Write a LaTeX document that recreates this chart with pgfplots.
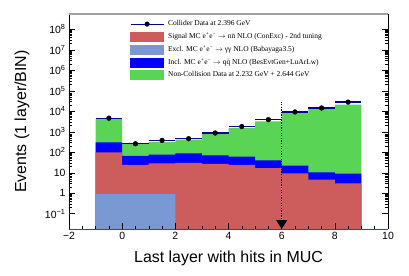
\documentclass[border=0pt]{standalone}
\usepackage{pgfplots}
\pgfplotsset{compat=1.18}
\usepackage{fontspec}
\setmainfont{Liberation Sans}
\newfontfamily\legfont{Liberation Serif}
\usetikzlibrary{arrows.meta}
\definecolor{sigred}{RGB}{205,92,92}
\definecolor{exclblue}{RGB}{122,153,210}
\definecolor{inclblue}{RGB}{0,0,255}
\definecolor{ncgreen}{RGB}{89,212,84}
\definecolor{datanavy}{RGB}{0,0,150}
\definecolor{framegray}{RGB}{160,160,160}
\definecolor{botline}{RGB}{60,70,110}
\begin{document}
\begin{tikzpicture}
\begin{axis}[
  at={(0,0)}, anchor=south west,
  scale only axis, width=319bp, height=215bp,
  xmin=-2, xmax=10, ymode=log, ymin=0.018, ymax=5.6e8,
  axis on top, axis line style={draw=none},
  xtick={-2,0,2,4,6,8,10},
  xticklabels={−2,0,2,4,6,8,10},
  minor x tick num=3,
  ytickten={-1,0,1,2,3,4,5,6,7,8},
  yticklabels={10\textsuperscript{−1},1,10,10\textsuperscript{2},10\textsuperscript{3},10\textsuperscript{4},10\textsuperscript{5},10\textsuperscript{6},10\textsuperscript{7},10\textsuperscript{8}},
  xtick pos=bottom, ytick pos=both, tick align=inside,
  major tick length=6bp, minor tick length=3bp,
  tick style={black, line width=0.5pt},
  ticklabel style={font=\fontsize{10.5}{12}\selectfont},
  xlabel={Last layer with hits in MUC},
  ylabel={Events (1 layer/BIN)},
  label style={font=\fontsize{16}{19}\selectfont},
  xlabel style={at={(axis description cs:0.5,-0.135)}, anchor=center},
  ylabel style={at={(axis description cs:-0.147,0.5)}, anchor=center},
  legend style={at={(rel axis cs:0.191,0.974)}, anchor=north west, draw=none, fill=none,
    inner sep=0pt, font=\legfont\fontsize{7.5}{9}\selectfont, row sep=3.4bp, column sep=3bp,
    nodes={inner sep=1bp}},
  legend cell align=left,
]
\addlegendimage{legend image code/.code={\draw[datanavy,line width=1pt](0bp,0bp)--(33bp,0bp); \fill[black](16.5bp,0bp) circle (2.3bp);}}
\addlegendentry{Collider Data at 2.396 GeV}
\addlegendimage{legend image code/.code={\fill[sigred](0bp,-4.5bp) rectangle (33bp,4.5bp);}}
\addlegendentry{Signal MC e\textsuperscript{+}e\textsuperscript{−} $\rightarrow$ n$\bar{\mbox{n}}$ NLO (ConExc) - 2nd tuning}
\addlegendimage{legend image code/.code={\fill[exclblue](0bp,-4.5bp) rectangle (33bp,4.5bp);}}
\addlegendentry{Excl. MC e\textsuperscript{+}e\textsuperscript{−} $\rightarrow$ γγ NLO (Babayaga3.5)}
\addlegendimage{legend image code/.code={\fill[inclblue](0bp,-4.5bp) rectangle (33bp,4.5bp);}}
\addlegendentry{Incl. MC e\textsuperscript{+}e\textsuperscript{−} $\rightarrow$ q$\bar{\mbox{q}}$ NLO (BesEvtGen+LuArLw)}
\addlegendimage{legend image code/.code={\fill[ncgreen](0bp,-4.5bp) rectangle (33bp,4.5bp);}}
\addlegendentry{Non-Collision Data at 2.232 GeV + 2.644 GeV}

% Non-collision (cumulative top)
\addplot[const plot mark left, fill=ncgreen, draw=none, forget plot] coordinates {
(-1,1e-3) (-1,4300) (0,250) (1,320) (2,410) (3,790) (4,1560) (5,3200) (6,8200) (7,13000) (8,21000) (9,21000) (9,1e-3)};
% Inclusive qq (cumulative top)
\addplot[const plot mark left, fill=inclblue, draw=none, forget plot] coordinates {
(-1,1e-3) (-1,300) (0,66) (1,77) (2,88) (3,71) (4,61) (5,40) (6,22) (7,10.5) (8,9.0) (9,9.0) (9,1e-3)};
% Signal (cumulative top)
\addplot[const plot mark left, fill=sigred, draw=none, forget plot] coordinates {
(-1,1e-3) (-1,100) (0,24) (1,29) (2,30) (3,27) (4,24) (5,17) (6,9.3) (7,4.6) (8,3.0) (9,3.0) (9,1e-3)};
% Exclusive gamma gamma
\addplot[const plot mark left, fill=exclblue, draw=none, forget plot] coordinates {
(-1,1e-3) (-1,0.9) (0,0.9) (1,0.9) (2,0.9) (2,1e-3)};
% Data
\addplot[only marks, mark=*, mark size=2.4bp, mark options={black, fill=black}, forget plot,
  error bars/.cd, x dir=both, x explicit, error mark=none,
  error bar style={datanavy, line width=1.3pt}] coordinates {
(-0.5,4600) +- (0.5,0)
(0.5,260) +- (0.5,0)
(1.5,380) +- (0.5,0)
(2.5,460) +- (0.5,0)
(3.5,870) +- (0.5,0)
(4.5,1800) +- (0.5,0)
(5.5,3900) +- (0.5,0)
(6.5,9300) +- (0.5,0)
(7.5,14500) +- (0.5,0)
(8.5,28000) +- (0.5,0)};
\draw[black, line width=1.3pt, dash pattern=on 1.3pt off 1.3pt, -{Triangle[width=11bp,length=9bp]}]
  (axis cs:6,3e4) -- (axis cs:6,0.018);
\end{axis}
\draw[black, line width=0.6pt] (0,0) -- (0,215bp);
\draw[black, line width=0.6pt] (319bp,0) -- (319bp,215bp);
\draw[framegray, line width=1.2pt] (0,215bp) -- (319bp,215bp);
\draw[botline, line width=0.9pt] (0,0) -- (319bp,0);
\path[use as bounding box] (-69bp,-47bp) rectangle (340bp,229bp);
\end{tikzpicture}
\end{document}
